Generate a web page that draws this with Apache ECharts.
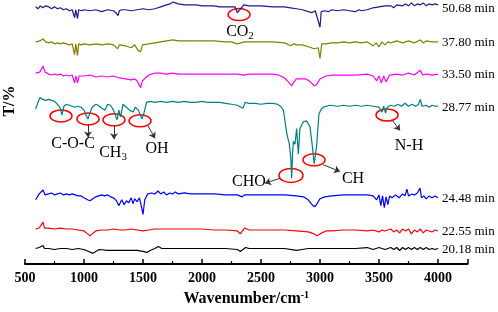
<!DOCTYPE html>
<html>
<head>
<meta charset="utf-8">
<script src="https://cdn.jsdelivr.net/npm/echarts/dist/echarts.min.js"></script>
<style>
  html, body { margin: 0; padding: 0; background: #fff; }
  #main { width: 498px; height: 312px; }
</style>
</head>
<body>
<div id="main"></div>
<script>
// spectra, [wavenumber, offset transmittance]
const t5068 = [[590,264],[610,262],[630,265],[650,263],[675,265],[700,264],[725,262],[750,264],[775,262],[800,263],[825,261],[850,262],[875,260],[900,261],[920,253],[930,261],[945,252],[955,261],[980,260],[1000,261],[1050,260],[1100,261],[1150,259],[1200,261],[1250,260],[1270,258],[1288,255],[1300,260],[1320,261],[1350,261],[1400,260],[1450,261],[1500,262],[1550,261],[1600,262],[1650,264],[1700,266],[1730,267],[1754,269],[1775,268],[1800,267],[1850,266],[1900,266],[1950,266],[2000,265],[2050,265],[2100,265],[2150,264],[2200,264],[2250,264],[2280,264],[2300,258],[2320,261],[2335,259],[2355,266],[2400,265],[2500,265],[2600,264],[2700,264],[2750,263],[2800,262],[2850,261],[2900,259],[2930,258],[2960,260],[2975,261],[3000,243],[3010,259],[3040,260],[3070,259],[3100,261],[3150,260],[3200,261],[3250,260],[3300,259],[3330,261],[3350,260],[3400,261],[3450,263],[3500,264],[3550,265],[3600,265],[3625,263],[3650,266],[3700,265],[3725,267],[3750,265],[3775,268],[3800,265],[3825,267],[3850,266],[3875,268],[3900,265],[3925,267],[3950,266],[3975,267],[4000,266]];
const t3780 = [[590,228],[625,229],[653,231],[675,228],[700,227],[725,228],[750,226],[775,227],[800,226],[825,227],[850,226],[875,225],[900,226],[920,215],[930,226],[945,214],[955,226],[980,225],[1000,226],[1050,225],[1100,226],[1150,225],[1200,226],[1250,225],[1285,221],[1300,225],[1350,224],[1400,222],[1430,225],[1460,219],[1480,218],[1495,225],[1550,226],[1600,227],[1650,228],[1700,229],[1754,230],[1800,229],[1850,229],[1900,229],[2000,229],[2100,229],[2200,228],[2250,228],[2300,226],[2330,227],[2360,228],[2400,228],[2500,228],[2600,228],[2700,227],[2750,224],[2780,226],[2800,225],[2850,225],[2900,223],[2950,221],[2985,222],[3000,211],[3015,226],[3050,226],[3100,227],[3150,227],[3200,228],[3250,227],[3300,228],[3350,227],[3400,228],[3450,224],[3475,227],[3500,223],[3525,228],[3550,225],[3575,228],[3600,227],[3650,229],[3700,227],[3750,229],[3800,227],[3850,230],[3875,227],[3900,229],[3950,228],[4000,228]];
const t3350 = [[590,196],[625,197],[653,203],[670,197],[700,195],[725,194],[750,195],[775,194],[800,195],[825,193],[850,194],[875,193],[900,194],[920,186],[932,193],[945,186],[958,193],[1000,193],[1050,194],[1100,192],[1150,193],[1200,192],[1250,193],[1300,191],[1350,190],[1400,189],[1430,190],[1450,188],[1480,181],[1495,188],[1520,191],[1550,194],[1600,196],[1650,196],[1700,195],[1750,196],[1800,195],[1900,195],[2000,195],[2100,195],[2200,195],[2300,195],[2350,194],[2400,195],[2500,195],[2600,195],[2650,194],[2700,191],[2740,186],[2760,183],[2780,187],[2800,190],[2830,190],[2880,190],[2920,187],[2950,183],[2970,184],[3000,190],[3050,193],[3100,194],[3200,194],[3300,194],[3400,195],[3450,193],[3480,188],[3500,193],[3520,186],[3540,193],[3560,187],[3590,194],[3650,195],[3700,194],[3750,196],[3800,194],[3850,199],[3870,194],[3900,195],[3950,194],[4000,195]];
const t2877 = [[590,159],[610,166],[627,171],[650,169],[675,168],[700,169],[725,168],[750,167],[775,164],[795,161],[814,153],[830,162],[850,164],[875,163],[900,162],[925,161],[950,162],[975,161],[1000,158],[1020,152],[1034,149],[1050,155],[1070,161],[1100,164],[1120,163],[1150,160],[1178,158],[1200,164],[1225,163],[1250,158],[1280,148],[1295,158],[1310,151],[1330,164],[1360,161],[1385,158],[1415,156],[1435,161],[1460,158],[1492,149],[1510,156],[1530,166],[1560,167],[1600,166],[1650,167],[1700,166],[1750,167],[1800,166],[1850,167],[1900,166],[1950,166],[2000,167],[2050,166],[2100,166],[2150,166],[2200,165],[2250,164],[2300,163],[2330,161],[2348,160],[2365,166],[2400,165],[2450,165],[2500,164],[2550,165],[2600,165],[2640,164],[2665,162],[2690,158],[2718,134],[2740,123],[2752,110],[2760,88],[2768,115],[2775,126],[2788,123],[2802,139],[2816,113],[2830,139],[2858,146],[2886,147],[2915,141],[2935,121],[2951,103],[2971,121],[2991,154],[3010,159],[3028,161],[3085,163],[3150,162],[3200,163],[3250,162],[3300,163],[3350,162],[3400,163],[3450,162],[3500,161],[3525,156],[3540,162],[3555,155],[3570,161],[3600,163],[3630,162],[3660,164],[3690,162],[3720,165],[3750,162],[3780,164],[3810,162],[3835,164],[3850,169],[3865,162],[3900,163],[3925,161],[3950,163],[3975,162],[4000,162]];
const t2448 = [[590,66],[620,72],[653,76],[670,71],[700,72],[725,73],[750,71],[775,72],[800,73],[825,71],[850,72],[875,71],[900,72],[925,71],[950,70],[975,70],[1000,68],[1030,66],[1051,65],[1075,67],[1100,69],[1125,70],[1150,71],[1175,70],[1200,71],[1225,69],[1250,68],[1275,65],[1295,60],[1305,58],[1320,66],[1340,61],[1360,65],[1380,63],[1400,68],[1415,62],[1430,67],[1450,64],[1470,68],[1485,60],[1500,51],[1515,66],[1540,72],[1570,73],[1600,72],[1627,75],[1650,72],[1675,74],[1700,71],[1725,73],[1750,72],[1775,74],[1800,72],[1850,73],[1900,72],[1950,72],[2000,72],[2100,72],[2200,71],[2300,71],[2339,69],[2360,71],[2400,71],[2500,71],[2600,71],[2700,71],[2800,70],[2860,69],[2900,66],[2940,60],[2958,59],[2975,62],[3000,67],[3040,69],[3100,70],[3200,71],[3300,71],[3400,71],[3450,70],[3480,66],[3500,71],[3515,60],[3530,70],[3545,58],[3560,69],[3575,61],[3590,70],[3610,68],[3640,71],[3670,68],[3700,72],[3720,70],[3737,77],[3750,70],[3780,72],[3800,71],[3825,73],[3848,78],[3860,68],[3880,70],[3900,67],[3925,70],[3950,68],[3975,70],[4000,68]];
const t2255 = [[590,36],[620,37],[653,43],[665,37],[700,37],[750,36],[800,37],[850,36],[900,36],[950,35],[1000,34],[1030,31],[1051,29],[1070,31],[1100,34],[1150,35],[1200,35],[1250,36],[1300,35],[1350,35],[1400,36],[1450,35],[1500,34],[1550,35],[1600,36],[1700,36],[1800,36],[1900,36],[2000,36],[2100,35],[2200,35],[2300,34],[2325,31],[2339,29],[2360,37],[2400,35],[2500,35],[2600,35],[2700,35],[2800,34],[2900,33],[2950,31],[2975,29],[3000,31],[3050,34],[3100,34],[3200,35],[3300,35],[3400,34],[3450,35],[3500,33],[3525,35],[3550,34],[3600,36],[3625,33],[3650,35],[3675,32],[3700,36],[3725,34],[3750,36],[3775,31],[3800,35],[3825,33],[3850,36],[3875,32],[3900,35],[3925,34],[3950,33],[3975,35],[4000,34]];
const t2018 = [[590,16],[620,17],[653,19],[665,16],[700,16],[750,15],[800,16],[850,16],[900,15],[950,16],[1000,15],[1040,13],[1076,11],[1100,13],[1130,15],[1200,14],[1250,14],[1300,14],[1350,14],[1400,14],[1450,14],[1500,13],[1534,12],[1560,14],[1600,16],[1630,18],[1660,16],[1700,16],[1800,16],[1900,16],[2000,16],[2100,16],[2200,16],[2300,15],[2325,13],[2339,12],[2369,17],[2400,16],[2500,16],[2600,16],[2700,16],[2800,14],[2850,15],[2900,16],[3000,16],[3100,16],[3200,16],[3300,16],[3400,17],[3450,15],[3500,17],[3550,15],[3600,17],[3625,15],[3650,17],[3675,14],[3700,17],[3725,15],[3750,17],[3775,15],[3800,17],[3825,15],[3850,17],[3875,15],[3900,17],[3925,15],[3950,16],[3975,15],[4000,16]];

const names = ["50.68 min", "37.80 min", "33.50 min", "28.77 min", "24.48 min", "22.55 min", "20.18 min"];
const spectra = [t5068, t3780, t3350, t2877, t2448, t2255, t2018];
const colors = ["#1a1a8c", "#808000", "#ff00ff", "#008080", "#0000ff", "#ff0000", "#000000"];

// annotations (data coords)
const rings = [[2314,256],[805,152],[1034,149],[1254,148],[1475,147],[2754,91],[2949,107],[3568,153]];
const notes = [["CO{s|2}",2322,238],["C-O-C",907,123],["CH{s|3}",1246,114],["OH",1619,118],["CHO",2398,84],["CH",3280,88],["N-H",3754,121]];
const arrows = [[[1034,143],[1034,130]],[[1254,142],[1254,128]],[[1542,142],[1602,129]],[[2661,88],[2534,83]],[[3026,102],[3170,95]],[[3610,148],[3678,137]]];

const serif = "Liberation Serif";
var chart = echarts.init(document.getElementById("main"));

var series = spectra.map(function (d, i) {
  return {
    name: names[i],
    type: "line",
    data: d,
    showSymbol: false,
    silent: true,
    lineStyle: { width: 1.2, color: colors[i] },
    itemStyle: { color: colors[i] },
    endLabel: {
      show: true,
      formatter: "{a}",
      distance: 4,
      offset: i === 0 ? [0, 4] : [0, 1],
      color: "#000",
      fontFamily: serif,
      fontSize: 13
    }
  };
});

// arrows on the 28.77 trace
series[3].markLine = {
  silent: true,
  symbol: ["none", "arrow"],
  symbolSize: 6,
  label: { show: false },
  lineStyle: { color: "#333", width: 1, type: "solid" },
  data: arrows.map(function (a) {
    return [{ coord: a[0] }, { coord: a[1] }];
  })
};

var option = {
  animation: false,
  grid: { left: 25, right: 30.5, top: 0, bottom: 41 },
  xAxis: {
    type: "value",
    min: 500,
    max: 4250,
    interval: 500,
    name: "{a|Wavenumber/cm}{s|-1}",
    nameLocation: "middle",
    nameGap: 19,
    nameTextStyle: {
      rich: {
        a: { fontFamily: serif, fontWeight: "bold", fontSize: 16, color: "#000" },
        s: { fontFamily: serif, fontWeight: "bold", fontSize: 10, color: "#000", verticalAlign: "top", padding: [0, 0, 8, 0] }
      }
    },
    axisLine: { lineStyle: { color: "#000", width: 2 } },
    axisTick: { inside: true, length: 5, lineStyle: { color: "#000", width: 1.5 } },
    minorTick: { show: true, splitNumber: 2, length: 3, lineStyle: { color: "#000", width: 1.2 } },
    axisLabel: {
      margin: 7,
      showMaxLabel: false,
      color: "#000",
      fontFamily: serif,
      fontWeight: "bold",
      fontSize: 14,
      formatter: function (v) { return String(v); }
    },
    splitLine: { show: false }
  },
  yAxis: { type: "value", min: 0, max: 271, show: false },
  series: series
};
chart.setOption(option);

function px(p) {
  return chart.convertToPixel({ gridIndex: 0 }, p);
}

var els = [];
rings.forEach(function (r, i) {
  var c = px(r);
  var big = i === 5;
  els.push({
    type: "ellipse",
    silent: true,
    shape: { cx: c[0], cy: c[1], rx: big ? 12 : 11, ry: big ? 7 : 6 },
    style: { fill: null, stroke: "#ff0000", lineWidth: 1.5 }
  });
});
notes.forEach(function (n) {
  var c = px([n[1], n[2]]);
  els.push({
    type: "text",
    silent: true,
    x: c[0],
    y: c[1],
    style: {
      text: n[0],
      align: "center",
      verticalAlign: "middle",
      fontFamily: serif,
      fontSize: 16,
      fill: "#000",
      rich: {
        s: { fontFamily: serif, fontSize: 11, fill: "#000", padding: [8, 0, 0, 0] }
      }
    }
  });
});
els.push({
  type: "text",
  silent: true,
  x: 10,
  y: 101,
  rotation: Math.PI / 2,
  style: {
    text: "T/%",
    align: "center",
    verticalAlign: "middle",
    fontFamily: serif,
    fontWeight: "bold",
    fontSize: 16,
    fill: "#000"
  }
});
chart.setOption({ graphic: els });
</script>
</body>
</html>
